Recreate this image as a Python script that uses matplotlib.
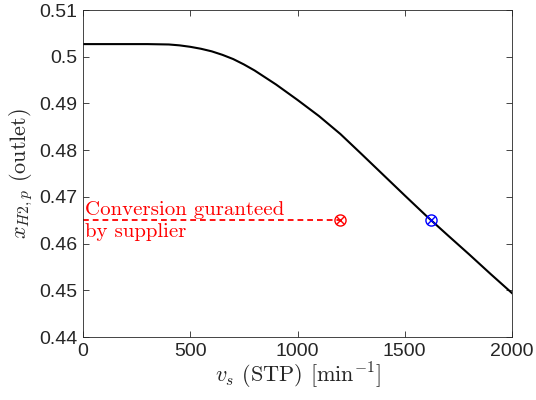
import matplotlib
matplotlib.use("Agg")
import matplotlib.pyplot as plt

plt.rcParams["font.family"] = ["Liberation Sans", "DejaVu Sans"]
plt.rcParams["mathtext.fontset"] = "cm"
plt.rcParams["axes.formatter.use_mathtext"] = False

# Outlet H2 fraction vs. space velocity
space_velocity = [0, 100, 200, 300, 400, 450, 500, 550, 600, 650, 700, 750,
                  800, 900, 1000, 1100, 1200, 1300, 1400, 1500, 1600, 1700,
                  1800, 1900, 2000]
x_h2_outlet = [0.5027, 0.5027, 0.5027, 0.5027, 0.50262, 0.50243, 0.50212,
               0.50170, 0.50115, 0.50040, 0.49950, 0.49835, 0.49705, 0.49405,
               0.49075, 0.4873, 0.48345, 0.47910, 0.47470, 0.4703, 0.46595,
               0.4618, 0.4577, 0.4535, 0.4494]

guaranteed_conversion = 0.465
guaranteed_velocity = 1200
achievable_velocity = 1622

x_ticks = [0, 500, 1000, 1500, 2000]
y_ticks = [0.44, 0.45, 0.46, 0.47, 0.48, 0.49, 0.50, 0.51]
y_tick_labels = ["0.44", "0.45", "0.46", "0.47", "0.48", "0.49", "0.5", "0.51"]

serif = "cmr10"
axis_gray = "#262626"

fig = plt.figure(figsize=(5.36, 4.0), dpi=100)
ax = fig.add_axes([0.1549, 0.1575, 0.8003, 0.8175])

ax.plot(space_velocity, x_h2_outlet, color="black", lw=1.5)

ax.plot([0, guaranteed_velocity], [guaranteed_conversion] * 2,
        color="red", lw=1.3, linestyle=(0, (3.2, 2.2)))
for vx, col in [(guaranteed_velocity, "red"), (achievable_velocity, "blue")]:
    ax.plot(vx, guaranteed_conversion, marker="o", ms=8, mfc="none",
            mec=col, mew=1.0)
    ax.plot(vx, guaranteed_conversion, marker="x", ms=6, mec=col, mew=1.0)

ax.text(10, guaranteed_conversion - 0.0002, "Conversion guranteed\nby supplier",
        color="red", family=serif, fontsize=15, va="center", ha="left",
        linespacing=1.3)

ax.set_xlim(0, 2000)
ax.set_ylim(0.44, 0.51)
ax.set_xticks(x_ticks)
ax.set_yticks(y_ticks)
ax.set_yticklabels(y_tick_labels)

ax.tick_params(direction="in", top=True, right=True, length=4, width=0.6,
               labelsize=14, colors=axis_gray, labelcolor=axis_gray, pad=4)
for sp in ax.spines.values():
    sp.set_color(axis_gray)
    sp.set_linewidth(0.6)

ax.set_xlabel(r"$v_s$ (STP) [min$^{-1}$]", family=serif, fontsize=16,
              color=axis_gray, labelpad=1)
ax.set_ylabel(r"$x_{H2,p}$ (outlet)", family=serif, fontsize=16,
              color=axis_gray, labelpad=3)

fig.savefig("out.png", dpi=100)
